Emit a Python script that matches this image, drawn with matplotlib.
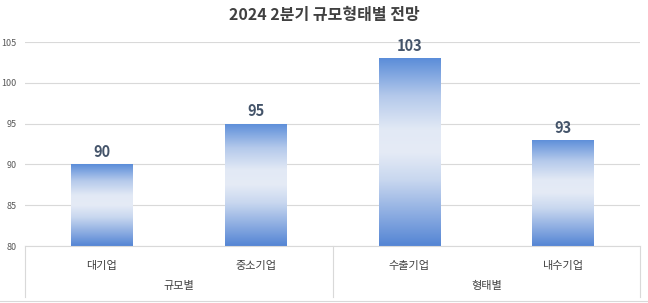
import matplotlib
matplotlib.use("Agg")
import matplotlib.pyplot as plt
import numpy as np
from matplotlib.colors import LinearSegmentedColormap
from matplotlib.patches import Rectangle
from matplotlib.lines import Line2D

plt.rcParams['font.family'] = ['Noto Sans CJK KR', 'DejaVu Sans']

title = "2024 2분기 규모형태별 전망"
categories = ["대기업", "중소기업", "수출기업", "내수기업"]
groups = ["규모별", "형태별"]
values = [90, 95, 103, 93]
yticks = [80, 85, 90, 95, 100, 105]

W, H = 648, 303
fig = plt.figure(figsize=(W / 100, H / 100), dpi=100)
left, right, top, bottom = 25, 640, 42, 246
ax = fig.add_axes([left / W, 1 - bottom / H, (right - left) / W, (bottom - top) / H])

ax.set_xlim(-0.5, len(categories) - 0.5)
ax.set_ylim(80, 105)
ax.set_yticks(yticks)
ax.set_yticklabels([str(t) for t in yticks], fontsize=6.5, color="#595959")
ax.tick_params(axis='y', length=0, pad=6)
ax.tick_params(axis='x', length=0, labelbottom=False)
ax.grid(axis='y', color="#d9d9d9", linewidth=0.8)
ax.set_axisbelow(True)
for s in ax.spines.values():
    s.set_visible(False)

cmap = LinearSegmentedColormap.from_list("g", [
    (0.0, "#5485d4"), (0.15, "#86a8e0"), (0.35, "#c8d7ef"),
    (0.5, "#e5ebf6"), (0.62, "#e2e9f5"), (0.8, "#b4c9eb"),
    (1.0, "#5b8dd9")])
grad = np.linspace(0, 1, 256).reshape(-1, 1)
bw = 0.4
for i, v in enumerate(values):
    x0 = i - bw / 2
    im = ax.imshow(grad, cmap=cmap, aspect='auto', origin='lower',
                   extent=[x0, x0 + bw, 80, v], zorder=2)
    rect = Rectangle((x0, 80), bw, v - 80, transform=ax.transData,
                     facecolor='none', edgecolor='none')
    ax.add_patch(rect)
    im.set_clip_path(rect)
    ax.annotate(str(v), (i, v), xytext=(0, 3), textcoords='offset points',
                ha='center', va='bottom', fontsize=10.5, fontweight='bold',
                color="#44546a")

ax.set_xlim(-0.5, len(categories) - 0.5)
ax.set_ylim(80, 105)

# category axis
for i, c in enumerate(categories):
    x = (left + (right - left) * (i + 0.5) / len(categories)) / W
    fig.text(x, 1 - 266 / H, c, ha='center', va='center', fontsize=8, color="#404040")
for j, g in enumerate(groups):
    x = (left + (right - left) * (j + 0.5) / len(groups)) / W
    fig.text(x, 1 - 286 / H, g, ha='center', va='center', fontsize=8, color="#404040")

lc = "#d9d9d9"
fig.add_artist(Line2D([left / W, right / W], [1 - bottom / H] * 2, color=lc, lw=0.8))
for xp in [left, (left + right) / 2, right]:
    fig.add_artist(Line2D([xp / W] * 2, [1 - bottom / H, 1 - 297 / H], color=lc, lw=0.8))
fig.add_artist(Line2D([0, 1], [1 - 300.5 / H] * 2, color=lc, lw=0.8))

fig.text(0.5, 1 - 15 / H, title, ha='center', va='center', fontsize=11.5,
         fontweight='bold', color="#404040")

fig.savefig("out.png", dpi=100)
